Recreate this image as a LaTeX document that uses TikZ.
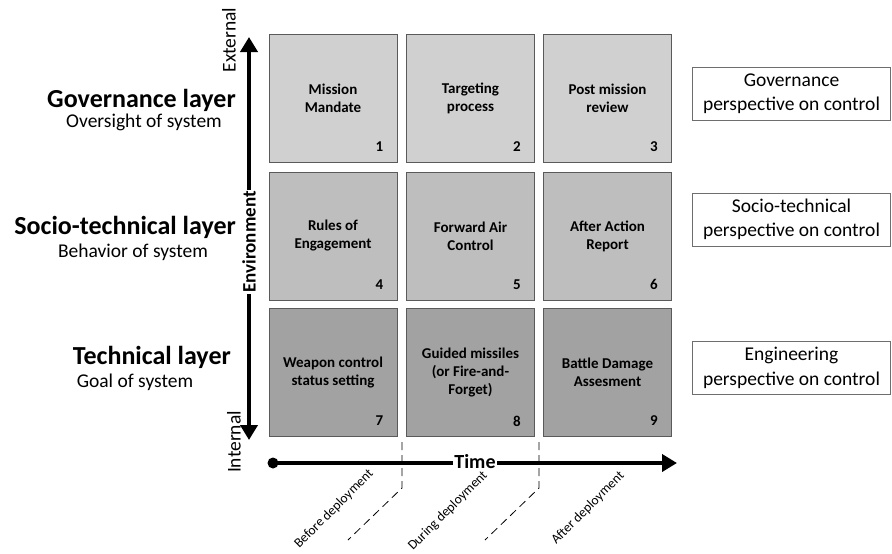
\documentclass[tikz,border=0pt]{standalone}
\usepackage{fontspec}
\setmainfont{Carlito}
\usetikzlibrary{arrows.meta,calc}
\definecolor{rowA}{HTML}{D0D0D0}
\definecolor{rowB}{HTML}{BEBEBE}
\definecolor{rowC}{HTML}{A2A2A2}
\definecolor{cellborder}{HTML}{5A5A5A}
\definecolor{pborder}{HTML}{6E6E6E}
\tikzset{
  cell/.style={draw=cellborder, line width=0.9pt, minimum width=128pt, minimum height=128pt,
    inner sep=0pt, align=center, font=\fontsize{15}{18}\selectfont\bfseries},
  num/.style={font=\fontsize{15}{18}\selectfont\bfseries, inner sep=0pt},
  pbox/.style={draw=pborder, line width=0.8pt, minimum width=198pt, minimum height=53pt,
    inner sep=0pt, align=center, font=\fontsize{19.5}{24.5}\selectfont},
  ltitle/.style={anchor=base east, inner sep=0pt, font=\fontsize{26}{30}\selectfont\bfseries},
  lsub/.style={anchor=base, inner sep=0pt, font=\fontsize{19.5}{23}\selectfont},
  bigarrow/.style={line width=4.5pt, {Triangle[width=17pt,length=15pt]}-{Triangle[width=17pt,length=15pt]}},
  timearrow/.style={line width=4.5pt, -{Triangle[width=17pt,length=15pt]}},
  dashline/.style={line width=0.8pt, dash pattern=on 8pt off 5pt},
  phase/.style={rotate=45, inner sep=0pt, font=\fontsize{13.5}{16}\selectfont},
  axislbl/.style={rotate=90, inner sep=0pt, font=\fontsize{19.5}{23}\selectfont},
}
\begin{document}
\begin{tikzpicture}[x=1pt,y=-1pt]
\useasboundingbox (0,0) rectangle (892,554);

% cells
\node[cell, fill=rowA] (c1) at (333,98.5) {Mission\\Mandate};
\node[cell, fill=rowA] (c2) at (470.5,98.5) {Targeting\\process};
\node[cell, fill=rowA] (c3) at (607.5,98.5) {Post mission\\review};
\node[cell, fill=rowB] (c4) at (333,236) {Rules of\\Engagement};
\node[cell, fill=rowB] (c5) at (470.5,236) {Forward Air\\Control};
\node[cell, fill=rowB] (c6) at (607.5,236) {After Action\\Report};
\node[cell, fill=rowC] (c7) at (333,372.5) {Weapon control\\status setting};
\node[cell, fill=rowC] (c8) at (470.5,372.5) {Guided missiles\\(or Fire-and-\\Forget)};
\node[cell, fill=rowC] (c9) at (607.5,372.5) {Battle Damage\\Assesment};
\foreach \i in {1,...,9}{
  \node[num] (n\i) at ($(c\i.south east)+(-18,-16)$) {\i};
}

% vertical axis
\coordinate (vtop) at (249,37);
\coordinate (vbot) at (249,440);
\draw[bigarrow] (vbot) -- (vtop);
\node[rotate=90, fill=white, inner sep=1.5pt, font=\fontsize{19}{22}\selectfont\bfseries] (env) at (249,242) {Environment};
\node[axislbl] (ext) at (229,40) {External};
\node[axislbl] (int) at (234,442) {Internal};

% time axis
\node[circle, fill=black, minimum size=11pt, inner sep=0pt] (tdot) at (273,463) {};
\coordinate (tend) at (677,463);
\draw[timearrow] (tdot.center) -- (tend);
\node[fill=white, inner sep=1.5pt, font=\fontsize{20}{24}\selectfont\bfseries] (time) at (475,462) {Time};

% phase separators
\coordinate (d1a) at (402,442);
\coordinate (d1b) at (402,488);
\coordinate (d1c) at (348,540);
\coordinate (d2a) at (539,442);
\coordinate (d2b) at (539,488);
\coordinate (d2c) at (485,540);
\draw[dashline] (d1a) -- (d1b) -- (d1c);
\draw[dashline] (d2a) -- (d2b) -- (d2c);

\node[phase] (ph1) at (334,509) {Before deployment};
\node[phase] (ph2) at (448,511) {During deployment};
\node[phase] (ph3) at (588,508) {After deployment};

% layer labels
\node[ltitle] (t1) at (236,107) {Governance layer};
\node[lsub] (s1) at (144,127) {Oversight of system};
\node[ltitle] (t2) at (236,234) {Socio-technical layer};
\node[lsub] (s2) at (133,257) {Behavior of system};
\node[ltitle] (t3) at (231,364) {Technical layer};
\node[lsub] (s3) at (135,387) {Goal of system};

% perspective boxes
\node[pbox] (p1) at (791.5,93.5) {Governance\\perspective on control};
\node[pbox] (p2) at (791.5,219.5) {Socio-technical\\perspective on control};
\node[pbox] (p3) at (791.5,368) {Engineering\\perspective on control};
\end{tikzpicture}
\end{document}
